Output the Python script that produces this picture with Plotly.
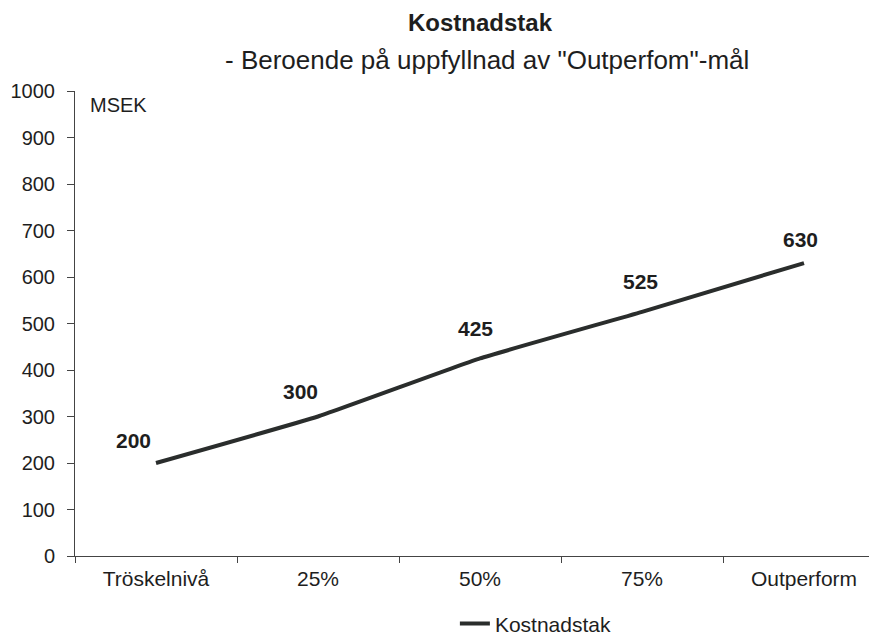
import plotly.graph_objects as go

categories = ["Tröskelnivå", "25%", "50%", "75%", "Outperform"]
values = [200, 300, 425, 525, 630]
value_labels = ["200", "300", "425", "525", "630"]
series_name = "Kostnadstak"
title_text = "Kostnadstak"
subtitle_text = "- Beroende på uppfyllnad av \"Outperfom\"-mål"
unit_text = "MSEK"

# label offsets (pixels) relative to each point
label_dx = [-23, -18, -5, -2, -4]
label_dy = [23, 25, 30, 30, 24]

FONT = "Liberation Sans, Arial, sans-serif"
LINE_COLOR = "#2a2d2c"
TEXT = "#1e1e1e"

fig = go.Figure()
fig.add_trace(go.Scatter(
    x=categories, y=values, mode="lines", name=series_name,
    line=dict(color=LINE_COLOR, width=4, shape="spline", smoothing=0.3),
    showlegend=True,
))

for c, v, t, dx, dy in zip(categories, values, value_labels, label_dx, label_dy):
    fig.add_annotation(x=c, y=v, text="<b>%s</b>" % t, showarrow=False,
                       xshift=dx, yshift=dy,
                       font=dict(family=FONT, size=21, color=TEXT))

fig.add_annotation(xref="paper", yref="paper", x=0.016, y=0.970, text=unit_text,
                   showarrow=False, xanchor="left", yanchor="middle",
                   font=dict(family=FONT, size=20, color=TEXT))
fig.add_annotation(xref="paper", yref="paper", x=0.5, y=1.148,
                   text="<b>%s</b>" % title_text, showarrow=False,
                   xanchor="center", yanchor="middle",
                   font=dict(family=FONT, size=24, color=TEXT))
fig.add_annotation(xref="paper", yref="paper", x=0.5086, y=1.067,
                   text=subtitle_text, showarrow=False,
                   xanchor="center", yanchor="middle",
                   font=dict(family=FONT, size=26, color=TEXT))

fig.update_layout(
    width=877, height=637,
    margin=dict(l=67, r=0, t=83, b=89, autoexpand=False),
    paper_bgcolor="white", plot_bgcolor="white",
    font=dict(family=FONT, size=20, color=TEXT),
    legend=dict(orientation="h", x=0.569, y=-0.146, xanchor="center", yanchor="middle",
                font=dict(family=FONT, size=21, color=TEXT)),
    showlegend=True,
)
fig.update_yaxes(range=[0, 1000], dtick=100, showgrid=False, zeroline=False,
                 showline=True, linecolor="#444", linewidth=1, automargin=False,
                 ticks="outside", ticklen=7, tickcolor="#444", ticklabelstandoff=8,
                 tickfont=dict(family=FONT, size=20, color=TEXT))
fig.update_xaxes(range=[-0.5, 4.5], showgrid=False, showline=True, linecolor="#444",
                 linewidth=1, automargin=False,
                 ticks="outside", ticklen=6, tickcolor="#444", tickson="boundaries",
                 ticklabelstandoff=4,
                 tickfont=dict(family=FONT, size=21, color=TEXT))

fig.write_html("out.html")
